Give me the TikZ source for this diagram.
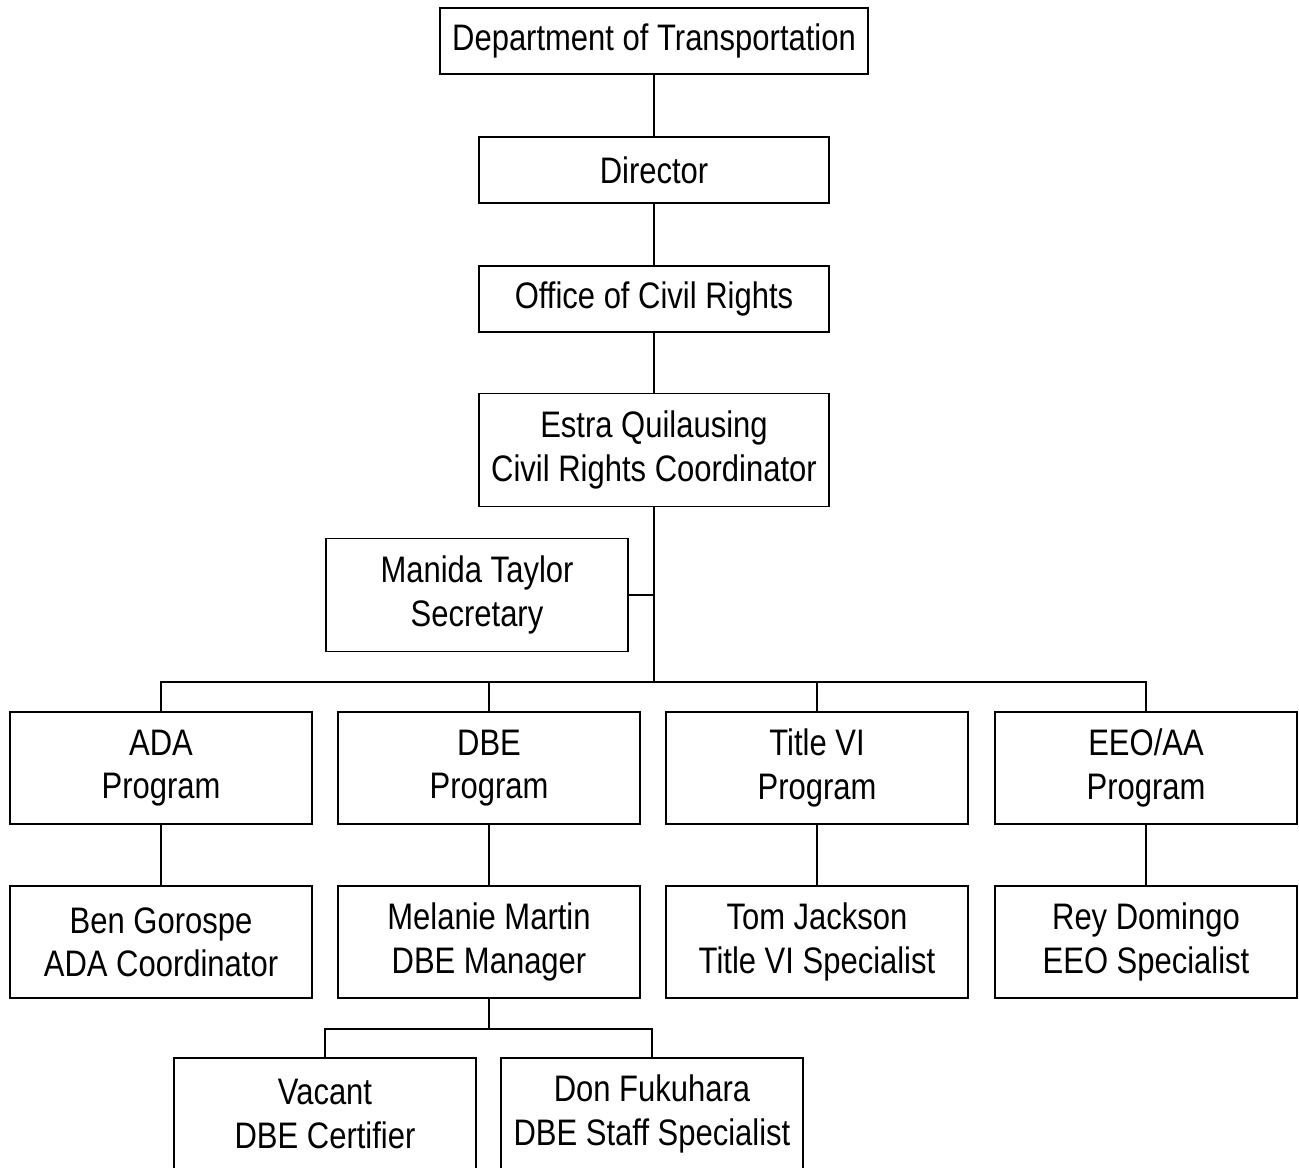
\documentclass[tikz,border=0pt]{standalone}
\usepackage{fontspec}
\setmainfont{Liberation Sans}[FakeStretch=0.84]
\tikzset{
  orgbox/.style={draw, line width=1.1pt, align=center, inner sep=0pt,
    font=\fontsize{21}{24.6}\selectfont, minimum width=6.04cm, minimum height=2.24cm},
  topbox/.style={orgbox, minimum height=1.32cm},
  link/.style={line width=1.1pt}
}
\begin{document}
\begin{tikzpicture}[x=0.02cm, y=-0.02cm]
    \useasboundingbox (0,0) rectangle (1299,1168);
    \clip (0,0) rectangle (1299,1168);
    % top of the chart
    \node[topbox, minimum width=8.58cm] (dot) at (654,41) {Department of Transportation};
    \node[topbox, minimum width=7cm] (dir) at (654,170) {Director};
    \node[topbox, minimum width=7cm] (ocr) at (654,299) {Office of Civil Rights};
    \node[orgbox, minimum width=7cm, minimum height=2.26cm] (coord) at (654,450) {Estra Quilausing\\Civil Rights Coordinator};
    \node[orgbox, minimum height=2.26cm] (sec) at (477,595) {Manida Taylor\\Secretary};
    \coordinate (bus) at (654,682);
    % programs
    \node[orgbox] (ada) at (161,768) {ADA\\Program};
    \node[orgbox] (dbe) at (489,768) {DBE\\Program};
    \node[orgbox] (tsix) at (817,768) {Title VI\\Program};
    \node[orgbox] (eeo) at (1146,768) {EEO/AA\\Program};
    % staff
    \node[orgbox] (ben) at (161,942) {Ben Gorospe\\ADA Coordinator};
    \node[orgbox] (mel) at (489,942) {Melanie Martin\\DBE Manager};
    \node[orgbox] (tom) at (817,942) {Tom Jackson\\Title VI Specialist};
    \node[orgbox] (rey) at (1146,942) {Rey Domingo\\EEO Specialist};
    \coordinate (dbebus) at (489,1029);
    \node[orgbox] (vac) at (325,1114) {Vacant\\DBE Certifier};
    \node[orgbox] (don) at (652,1114) {Don Fukuhara\\DBE Staff Specialist};
    % connectors
    \draw[link] (dot) -- (dir);
    \draw[link] (dir) -- (ocr);
    \draw[link] (ocr) -- (coord);
    \draw[link] (coord) -- (bus);
    \draw[link] (sec.east) -- (sec.east -| bus);
    \draw[link] (ada.north) |- (bus) -| (eeo.north);
    \draw[link] (dbe.north) -- (dbe.north |- bus);
    \draw[link] (tsix.north) -- (tsix.north |- bus);
    \draw[link] (ada) -- (ben);
    \draw[link] (dbe) -- (mel);
    \draw[link] (tsix) -- (tom);
    \draw[link] (eeo) -- (rey);
    \draw[link] (mel) -- (dbebus);
    \draw[link] (vac.north) |- (dbebus) -| (don.north);
\end{tikzpicture}
\end{document}
